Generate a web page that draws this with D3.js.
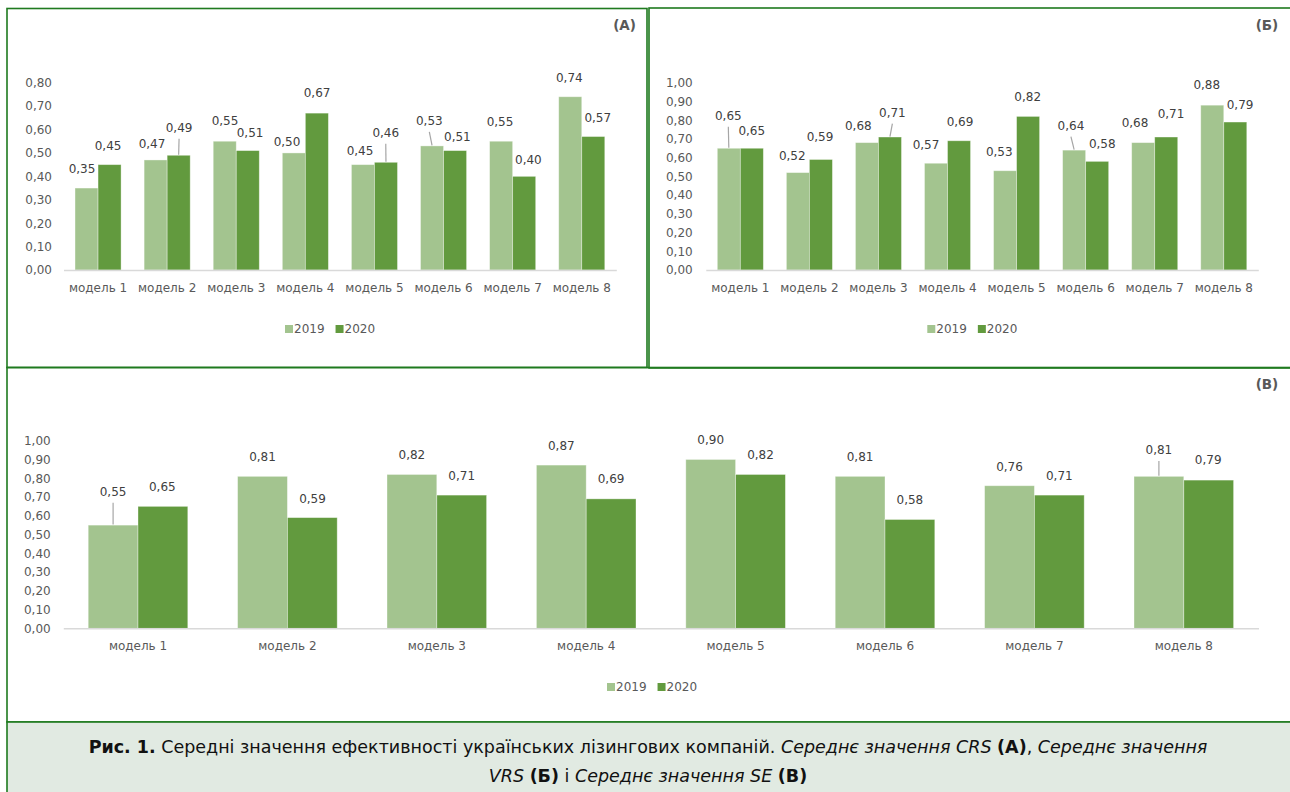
<!DOCTYPE html>
<html>
<head>
<meta charset="utf-8">
<script src="https://cdn.jsdelivr.net/npm/d3@7"></script>
<style>
  html, body { margin: 0; padding: 0; background: #ffffff; }
  svg { display: block; }
  text { font-family: "DejaVu Sans", Verdana, sans-serif; }
</style>
</head>
<body>
<svg id="chart" width="1290" height="792"></svg>
<script>
// ---------- data ----------
const categories = ["модель 1", "модель 2", "модель 3", "модель 4", "модель 5", "модель 6", "модель 7", "модель 8"];
const years = ["2019", "2020"];

const crs2019 = [0.35, 0.47, 0.55, 0.50, 0.45, 0.53, 0.55, 0.74];
const crs2020 = [0.45, 0.49, 0.51, 0.67, 0.46, 0.51, 0.40, 0.57];

const vrs2019 = [0.65, 0.52, 0.68, 0.57, 0.53, 0.64, 0.68, 0.88];
const vrs2020 = [0.65, 0.59, 0.71, 0.69, 0.82, 0.58, 0.71, 0.79];

const se2019 = [0.55, 0.81, 0.82, 0.87, 0.90, 0.81, 0.76, 0.81];
const se2020 = [0.65, 0.59, 0.71, 0.69, 0.82, 0.58, 0.71, 0.79];

const ticksCRS = [0, 0.1, 0.2, 0.3, 0.4, 0.5, 0.6, 0.7, 0.8];
const ticksVRS = [0, 0.1, 0.2, 0.3, 0.4, 0.5, 0.6, 0.7, 0.8, 0.9, 1.0];
const ticksSE  = [0, 0.1, 0.2, 0.3, 0.4, 0.5, 0.6, 0.7, 0.8, 0.9, 1.0];

const panelTags = ["(А)", "(Б)", "(В)"];

// manual data-label placement (px offsets from bar top centre), as in the original
const labelShiftA = [
  [[-4.5,-19],[-3.6,-16],[0.3,-20],[-6.8,-11.3],[-2.9,-14],[-2.7,-25],[-1.1,-19.5],[-0.9,-19]],
  [[-1.5,-19],[0.4,-27.6],[2.3,-17.3],[0.2,-19.9],[-0.2,-29.6],[2.3,-14],[4.2,-16.4],[4.5,-19]]
];
const labelShiftB = [
  [[-0.5,-32.6],[-5.6,-16.9],[-8.6,-16.9],[-10,-18.2],[-5.8,-19],[-3.2,-24.4],[-8.2,-19.3],[-5.5,-20.2]],
  [[-0.1,-17.3],[-0.9,-22.2],[2.4,-24.3],[1,-19.1],[-0.4,-19.7],[5.1,-17.1],[4.8,-22.7],[4.8,-17]]
];
const labelShiftC = [
  [[0,-33.4],[0,-19.6],[0,-19.5],[0,-19.5],[0,-19.5],[0,-19.5],[0,-19],[0,-26.3]],
  [[-0.6,-19.7],[0.2,-18.3],[0,-19.5],[0,-19.5],[0,-19.5],[0,-19.5],[0,-19.4],[-0.5,-20]]
];

// ---------- style ----------
const colors = {"2019": "#a3c48f", "2020": "#629a3e"};
const borderColor = "#1f7a1f";
const axisTextColor = "#595959";
const labelColor = "#404040";

const svg = d3.select("#chart");
const fmt = v => d3.format(".2f")(v).replace(".", ",");

// panel frames
svg.append("rect").attr("x", 7).attr("y", 8.5).attr("width", 640).attr("height", 359)
  .attr("fill", "none").attr("stroke", borderColor).attr("stroke-width", 1.6);
svg.append("rect").attr("x", 649).attr("y", 8).attr("width", 643).attr("height", 360)
  .attr("fill", "none").attr("stroke", borderColor).attr("stroke-width", 1.6);
svg.append("rect").attr("x", 7).attr("y", 367.5).attr("width", 1285).attr("height", 354.5)
  .attr("fill", "none").attr("stroke", borderColor).attr("stroke-width", 1.6);
svg.append("rect").attr("x", 7).attr("y", 722).attr("width", 1285).attr("height", 80)
  .attr("fill", "#e1eae2").attr("stroke", borderColor).attr("stroke-width", 1.6);

function drawPanel(cfg) {
  const g = svg.append("g");
  const x = d3.scaleBand().domain(categories).range([cfg.x0, cfg.x1])
    .paddingInner(1/3).paddingOuter(1/6);
  const xi = d3.scaleBand().domain(years).range([0, x.bandwidth()]);
  const y = d3.scaleLinear().domain([0, cfg.max]).range([cfg.y0, cfg.yTop]);

  // y axis (labels only)
  const ya = g.append("g").attr("transform", `translate(${cfg.tickRight + 3},0)`)
    .call(d3.axisLeft(y).tickValues(cfg.ticks).tickFormat(fmt).tickSize(0).tickPadding(3));
  ya.select(".domain").remove();
  ya.selectAll("text").attr("fill", axisTextColor).style("font-size", "12px")
    .style("font-family", "'DejaVu Sans', sans-serif");

  // bars
  const series = [cfg.s2019, cfg.s2020];
  years.forEach((yr, si) => {
    g.append("g").selectAll("rect").data(series[si]).join("rect")
      .attr("x", (d, i) => x(categories[i]) + xi(yr))
      .attr("y", d => y(d))
      .attr("width", xi.bandwidth())
      .attr("height", d => y(0) - y(d))
      .attr("fill", colors[yr])
      .attr("stroke", "#ffffff").attr("stroke-opacity", 0.45).attr("stroke-width", 0.8);
  });

  // x axis
  const xa = g.append("g").attr("transform", `translate(0,${cfg.y0})`)
    .call(d3.axisBottom(x).tickSize(0).tickSizeOuter(0).tickPadding(13.5));
  xa.select(".domain").attr("stroke", "#d9d9d9").attr("stroke-width", 1.6);
  xa.selectAll("text").attr("fill", axisTextColor).style("font-size", "12px")
    .style("font-family", "'DejaVu Sans', sans-serif");

  // data labels + leader lines
  years.forEach((yr, si) => {
    series[si].forEach((v, i) => {
      const cx = x(categories[i]) + xi(yr) + xi.bandwidth() / 2;
      const top = y(v);
      const [dx, dy] = cfg.shift[si][i];
      const lx = cx + dx, ly = top + dy;
      if (dy < -23.5) {
        g.append("line").attr("x1", lx).attr("y1", ly + 11).attr("x2", cx).attr("y2", top - 0.5)
          .attr("stroke", "#a6a6a6").attr("stroke-width", 1.2);
      }
      g.append("text").attr("x", lx).attr("y", ly).attr("text-anchor", "middle")
        .attr("dominant-baseline", "central").attr("fill", labelColor)
        .style("font-size", "12px").text(fmt(v));
    });
  });

  // legend
  const lg = g.append("g").attr("transform", `translate(${cfg.legendX},${cfg.legendY})`);
  let off = 0;
  years.forEach(yr => {
    lg.append("rect").attr("x", off).attr("y", -4).attr("width", 8).attr("height", 8).attr("fill", colors[yr]);
    const t = lg.append("text").attr("x", off + 9).attr("y", 0).attr("dominant-baseline", "central")
      .attr("fill", axisTextColor).style("font-size", "12px").text(yr);
    off += 9 + t.node().getComputedTextLength() + 11;
  });

  // panel tag
  g.append("text").attr("x", cfg.tagX).attr("y", cfg.tagY).attr("text-anchor", "end")
    .attr("dominant-baseline", "central").attr("fill", "#595959")
    .style("font-size", "13.5px").style("font-weight", "bold").text(cfg.tag);
}

drawPanel({x0: 63.5, x1: 616.3, y0: 270, yTop: 82.7, max: 0.8, ticks: ticksCRS,
  s2019: crs2019, s2020: crs2020, shift: labelShiftA, tickRight: 52,
  legendX: 285, legendY: 329, tag: panelTags[0], tagX: 636, tagY: 25});

drawPanel({x0: 705.8, x1: 1258.3, y0: 270, yTop: 82.7, max: 1.0, ticks: ticksVRS,
  s2019: vrs2019, s2020: vrs2020, shift: labelShiftB, tickRight: 692.7,
  legendX: 927.3, legendY: 329, tag: panelTags[1], tagX: 1278.3, tagY: 25});

drawPanel({x0: 63.3, x1: 1258.5, y0: 628.3, yTop: 440.7, max: 1.0, ticks: ticksSE,
  s2019: se2019, s2020: se2020, shift: labelShiftC, tickRight: 50.7,
  legendX: 607, legendY: 687, tag: panelTags[2], tagX: 1278.3, tagY: 383.5});

// caption
const cap = svg.append("g").style("font-size", "17.5px").attr("fill", "#111111");
const line1 = cap.append("text").attr("x", 648).attr("y", 747).attr("text-anchor", "middle")
  .attr("dominant-baseline", "central");
line1.append("tspan").style("font-weight", "bold").text("Рис. 1.");
line1.append("tspan").text(" Середні значення ефективності українських лізингових компаній. ");
line1.append("tspan").style("font-style", "italic").text("Середнє значення CRS");
line1.append("tspan").text(" ");
line1.append("tspan").style("font-weight", "bold").text("(А)");
line1.append("tspan").text(", ");
line1.append("tspan").style("font-style", "italic").text("Середнє значення");

const line2 = cap.append("text").attr("x", 648).attr("y", 776).attr("text-anchor", "middle")
  .attr("dominant-baseline", "central");
line2.append("tspan").style("font-style", "italic").text("VRS");
line2.append("tspan").text(" ");
line2.append("tspan").style("font-weight", "bold").text("(Б)");
line2.append("tspan").text(" і ");
line2.append("tspan").style("font-style", "italic").text("Середнє значення SE");
line2.append("tspan").text(" ");
line2.append("tspan").style("font-weight", "bold").text("(В)");
</script>
</body>
</html>
